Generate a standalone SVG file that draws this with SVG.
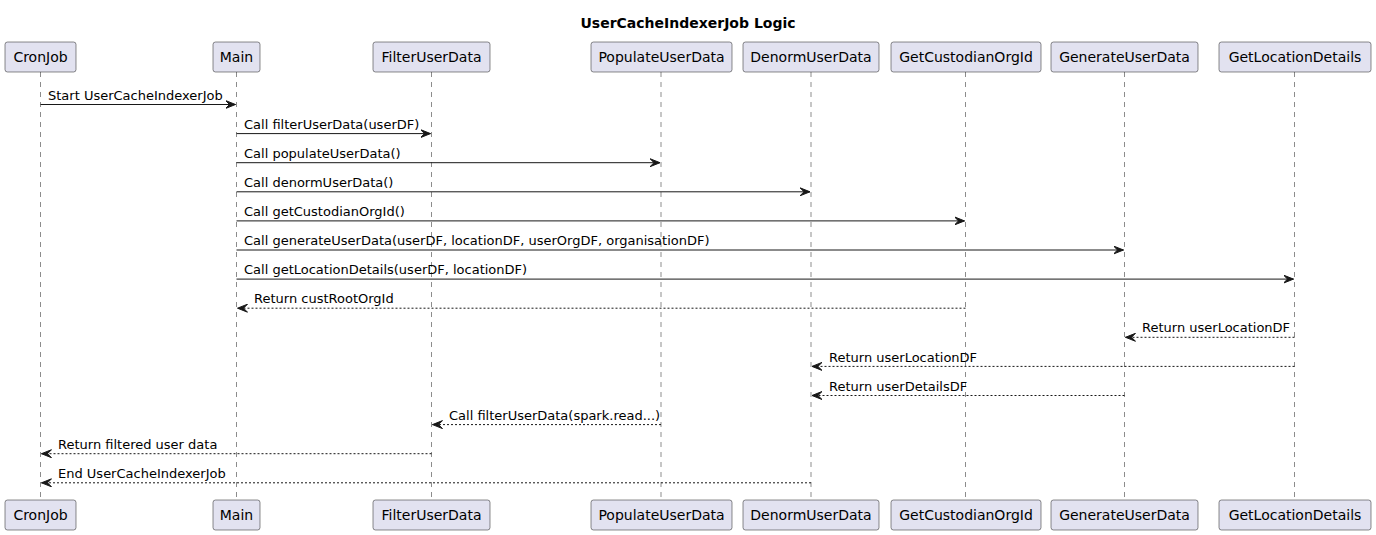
<svg xmlns="http://www.w3.org/2000/svg" width="1376" height="535" viewBox="0 0 1376 535">
<style>
.box{fill:#E2E2F0;stroke:#181818;stroke-width:0.5}
.pname{font-family:"DejaVu Sans",sans-serif;font-size:14px;fill:#000;text-anchor:middle}
.life{stroke:#181818;stroke-width:0.5;stroke-dasharray:5,5;fill:none}
.msg{stroke:#181818;stroke-width:1;fill:none}
.ret{stroke:#181818;stroke-width:1;stroke-dasharray:2,2;fill:none}
.lbl{font-family:"DejaVu Sans",sans-serif;font-size:13px;fill:#000}
.title{font-family:"DejaVu Sans",sans-serif;font-size:14px;font-weight:bold;fill:#000;text-anchor:middle}
</style>
<defs>
<marker id="ah" markerUnits="userSpaceOnUse" markerWidth="11" markerHeight="9" refX="10" refY="4" orient="auto" viewBox="0 0 11 8">
<path d="M0,0 L10,4 L0,8 L4,4 Z" fill="#181818" stroke="#181818" stroke-width="1"/>
</marker>
</defs>
<rect width="1376" height="535" fill="#FFFFFF"/>
<text class="title" x="688" y="27.5">UserCacheIndexerJob Logic</text>
<g id="lifelines">
<line class="life" x1="40.5" y1="72" x2="40.5" y2="500"/>
<line class="life" x1="236.5" y1="72" x2="236.5" y2="500"/>
<line class="life" x1="431.5" y1="72" x2="431.5" y2="500"/>
<line class="life" x1="661" y1="72" x2="661" y2="500"/>
<line class="life" x1="811" y1="72" x2="811" y2="500"/>
<line class="life" x1="965.5" y1="72" x2="965.5" y2="500"/>
<line class="life" x1="1124.5" y1="72" x2="1124.5" y2="500"/>
<line class="life" x1="1294.5" y1="72" x2="1294.5" y2="500"/>
</g>
<g id="CronJob">
<rect class="box" x="5" y="42" width="71" height="30" rx="2.5"/><text class="pname" x="40.5" y="62">CronJob</text>
<rect class="box" x="5" y="500" width="71" height="30" rx="2.5"/><text class="pname" x="40.5" y="520">CronJob</text>
</g>
<g id="Main">
<rect class="box" x="213" y="42" width="47" height="30" rx="2.5"/><text class="pname" x="236.5" y="62">Main</text>
<rect class="box" x="213" y="500" width="47" height="30" rx="2.5"/><text class="pname" x="236.5" y="520">Main</text>
</g>
<g id="FilterUserData">
<rect class="box" x="373" y="42" width="117" height="30" rx="2.5"/><text class="pname" x="431.5" y="62">FilterUserData</text>
<rect class="box" x="373" y="500" width="117" height="30" rx="2.5"/><text class="pname" x="431.5" y="520">FilterUserData</text>
</g>
<g id="PopulateUserData">
<rect class="box" x="591" y="42" width="141" height="30" rx="2.5"/><text class="pname" x="661.5" y="62">PopulateUserData</text>
<rect class="box" x="591" y="500" width="141" height="30" rx="2.5"/><text class="pname" x="661.5" y="520">PopulateUserData</text>
</g>
<g id="DenormUserData">
<rect class="box" x="743" y="42" width="136" height="30" rx="2.5"/><text class="pname" x="811" y="62">DenormUserData</text>
<rect class="box" x="743" y="500" width="136" height="30" rx="2.5"/><text class="pname" x="811" y="520">DenormUserData</text>
</g>
<g id="GetCustodianOrgId">
<rect class="box" x="891" y="42" width="150" height="30" rx="2.5"/><text class="pname" x="966" y="62">GetCustodianOrgId</text>
<rect class="box" x="891" y="500" width="150" height="30" rx="2.5"/><text class="pname" x="966" y="520">GetCustodianOrgId</text>
</g>
<g id="GenerateUserData">
<rect class="box" x="1051" y="42" width="147" height="30" rx="2.5"/><text class="pname" x="1124.5" y="62">GenerateUserData</text>
<rect class="box" x="1051" y="500" width="147" height="30" rx="2.5"/><text class="pname" x="1124.5" y="520">GenerateUserData</text>
</g>
<g id="GetLocationDetails">
<rect class="box" x="1219" y="42" width="152" height="30" rx="2.5"/><text class="pname" x="1295" y="62">GetLocationDetails</text>
<rect class="box" x="1219" y="500" width="152" height="30" rx="2.5"/><text class="pname" x="1295" y="520">GetLocationDetails</text>
</g>
<g id="connectors">
<line class="msg" x1="40.5" y1="104.5" x2="235.5" y2="104.5" marker-end="url(#ah)"/>
<text class="lbl" x="48" y="100">Start UserCacheIndexerJob</text>
<line class="msg" x1="236.5" y1="133.6" x2="430.5" y2="133.6" marker-end="url(#ah)"/>
<text class="lbl" x="244" y="129">Call filterUserData(userDF)</text>
<line class="msg" x1="236.5" y1="162.7" x2="660" y2="162.7" marker-end="url(#ah)"/>
<text class="lbl" x="244" y="158">Call populateUserData()</text>
<line class="msg" x1="236.5" y1="191.8" x2="810" y2="191.8" marker-end="url(#ah)"/>
<text class="lbl" x="244" y="187">Call denormUserData()</text>
<line class="msg" x1="236.5" y1="220.9" x2="964.5" y2="220.9" marker-end="url(#ah)"/>
<text class="lbl" x="244" y="216">Call getCustodianOrgId()</text>
<line class="msg" x1="236.5" y1="250" x2="1123.5" y2="250" marker-end="url(#ah)"/>
<text class="lbl" x="244" y="245">Call generateUserData(userDF, locationDF, userOrgDF, organisationDF)</text>
<line class="msg" x1="236.5" y1="279.1" x2="1293.5" y2="279.1" marker-end="url(#ah)"/>
<text class="lbl" x="244" y="274">Call getLocationDetails(userDF, locationDF)</text>
<line class="ret" x1="965.5" y1="308.2" x2="237.5" y2="308.2" marker-end="url(#ah)"/>
<text class="lbl" x="254" y="303">Return custRootOrgId</text>
<line class="ret" x1="1294.5" y1="337.3" x2="1125.5" y2="337.3" marker-end="url(#ah)"/>
<text class="lbl" x="1142" y="332">Return userLocationDF</text>
<line class="ret" x1="1294.5" y1="366.4" x2="812" y2="366.4" marker-end="url(#ah)"/>
<text class="lbl" x="829" y="361.5">Return userLocationDF</text>
<line class="ret" x1="1124.5" y1="395.5" x2="812" y2="395.5" marker-end="url(#ah)"/>
<text class="lbl" x="829" y="390.5">Return userDetailsDF</text>
<line class="ret" x1="661" y1="424.6" x2="432.5" y2="424.6" marker-end="url(#ah)"/>
<text class="lbl" x="449" y="419.5">Call filterUserData(spark.read...)</text>
<line class="ret" x1="431.5" y1="453.7" x2="41.5" y2="453.7" marker-end="url(#ah)"/>
<text class="lbl" x="58" y="448.5">Return filtered user data</text>
<line class="ret" x1="811" y1="482.8" x2="41.5" y2="482.8" marker-end="url(#ah)"/>
<text class="lbl" x="58" y="477.5">End UserCacheIndexerJob</text>
</g>
</svg>
